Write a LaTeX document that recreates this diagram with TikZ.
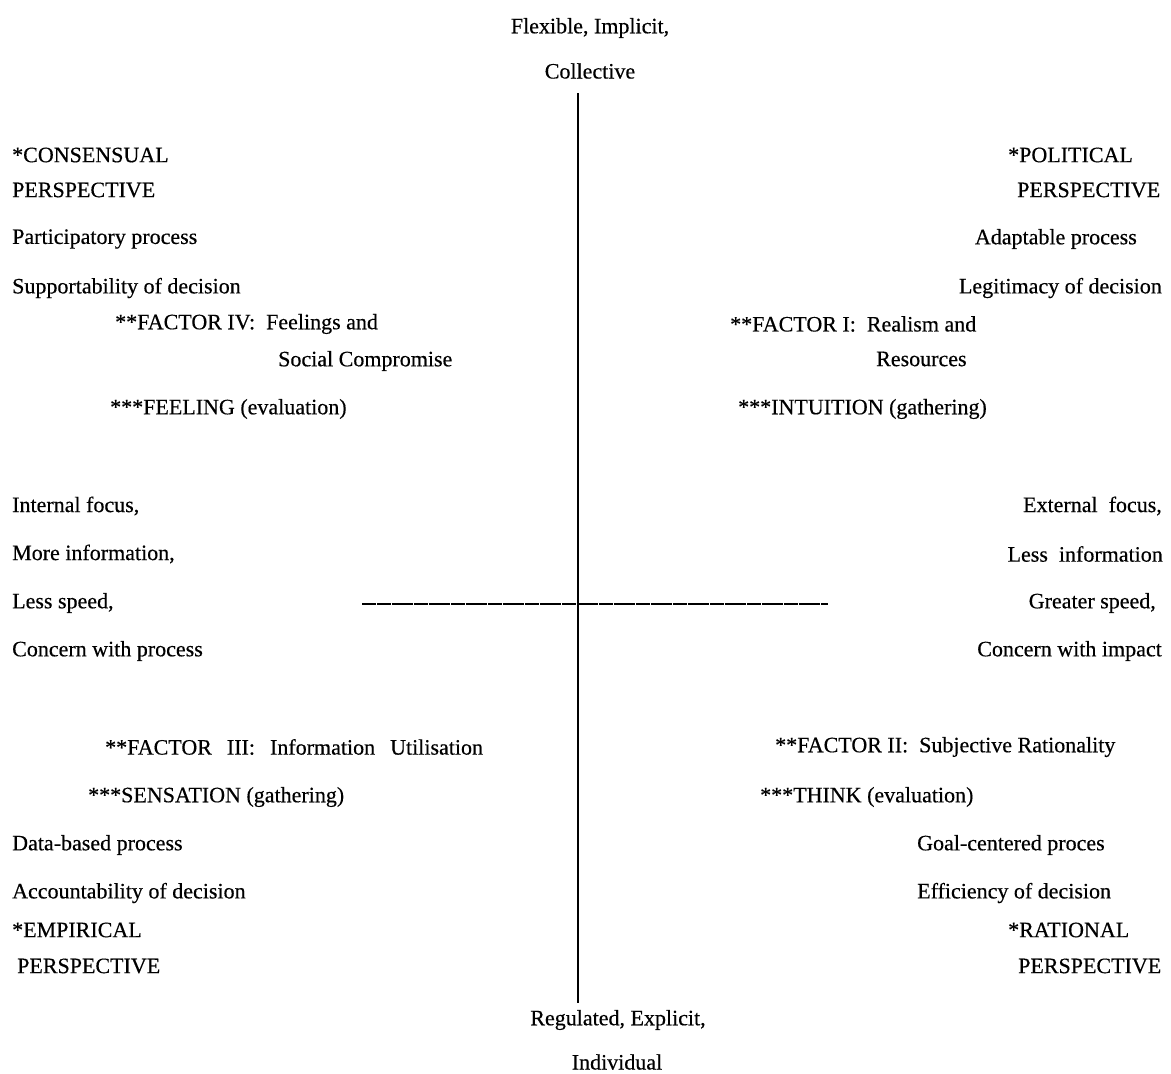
\documentclass[tikz,border=0pt]{standalone}
\usepackage{fontspec}
\setmainfont{Liberation Serif}[FakeBold=0.4]
\usetikzlibrary{positioning}

\begin{document}
\begin{tikzpicture}[x=1pt,y=-1pt,font=\fontsize{22}{26}\selectfont,
    lbl/.style={inner sep=0pt,anchor=west},
    rlbl/.style={inner sep=0pt,anchor=east},
    clbl/.style={inner sep=0pt}]
    \useasboundingbox (0,0) rectangle (1171,1074);
    % axis ends
    \node[clbl] (flex) at (590,28) {Flexible, Implicit,};
    \node[clbl] (coll) at (590,71) {Collective};
    \node[clbl] (regu) at (618,1020) {Regulated, Explicit,};
    \node[clbl] (indi) at (617,1062) {Individual};
    \coordinate (vtop) at (578,93); \coordinate (vbot) at (578,1003);
    \coordinate (hlft) at (362,604); \coordinate (hrgt) at (828,604);
    \draw[line width=1.5pt] (vtop)--(vbot);
    \draw[line width=1.2pt,dash pattern=on 7pt off .4pt] (hlft)--(hrgt);
    % upper left
    \node[lbl] (cons) at (12,155) {*CONSENSUAL};
    \node[lbl] (consp) at (12,190) {PERSPECTIVE};
    \node[lbl] (part) at (12,239) {Participatory process};
    \node[lbl] (supp) at (12,288) {Supportability of decision};
    \node[lbl] (fiv) at (115,324) {**FACTOR IV:\ \ Feelings and};
    \node[lbl] (fivb) at (278,361) {Social Compromise};
    \node[lbl] (feel) at (110,409) {***FEELING (evaluation)};
    % upper right
    \node[lbl] (poli) at (1008,155) {*POLITICAL};
    \node[lbl] (polip) at (1017,190) {PERSPECTIVE};
    \node[rlbl] (adap) at (1137,239) {Adaptable process};
    \node[rlbl] (legi) at (1162,288) {Legitimacy of decision};
    \node[lbl] (fi) at (730,324) {**FACTOR I:\ \ Realism and};
    \node[lbl] (fib) at (876,359) {Resources};
    \node[lbl] (intu) at (738,409) {***INTUITION (gathering)};
    % middle left
    \node[lbl] (intf) at (12,506) {Internal focus,};
    \node[lbl] (more) at (12,554) {More information,};
    \node[lbl] (lspd) at (12,603) {Less speed,};
    \node[lbl] (cprc) at (12,651) {Concern with process};
    % middle right
    \node[rlbl] (extf) at (1162,506) {External\ \ focus,};
    \node[rlbl] (less) at (1163,554) {Less\ \ information};
    \node[rlbl] (gspd) at (1156,603) {Greater speed,};
    \node[rlbl] (cimp) at (1162,651) {Concern with impact};
    % lower left
    \node[lbl] (fiii) at (105,747) {**FACTOR\hspace{15pt}III:\hspace{15pt}Information\hspace{15pt}Utilisation};
    \node[lbl] (sens) at (88,797) {***SENSATION (gathering)};
    \node[lbl] (data) at (12,845) {Data-based process};
    \node[lbl] (acco) at (12,893) {Accountability of decision};
    \node[lbl] (empi) at (12,930) {*EMPIRICAL};
    \node[lbl] (empip) at (17,966) {PERSPECTIVE};
    % lower right
    \node[lbl] (fii) at (775,747) {**FACTOR II:\ \ Subjective Rationality};
    \node[lbl] (thnk) at (760,797) {***THINK (evaluation)};
    \node[lbl] (goal) at (917,845) {Goal-centered proces};
    \node[lbl] (effi) at (917,893) {Efficiency of decision};
    \node[lbl] (rati) at (1008,930) {*RATIONAL};
    \node[lbl] (ratip) at (1018,966) {PERSPECTIVE};
  \end{tikzpicture}
\end{document}
